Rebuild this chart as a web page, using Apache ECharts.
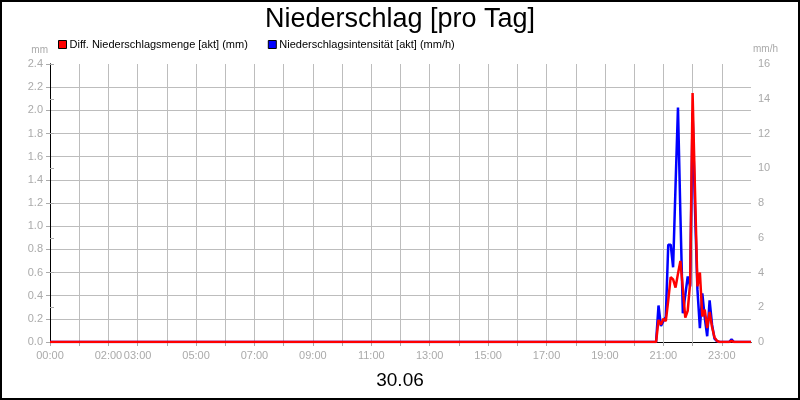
<!DOCTYPE html>
<html>
<head>
<meta charset="utf-8">
<title>Niederschlag [pro Tag]</title>
<script src="https://cdn.jsdelivr.net/npm/echarts@6/dist/echarts.min.js"></script>
<style>
  html, body { margin: 0; padding: 0; background: #fff; }
  #chart { width: 800px; height: 400px; }
</style>
</head>
<body>
<div id="chart"></div>
<script>
// Messzeitpunkte (5-Minuten-Werte, nur Regenphase, sonst 0)
var times = ['00:00', '20:45', '20:50', '20:55', '21:00', '21:05', '21:10', '21:15', '21:20',
  '21:25', '21:30', '21:35', '21:40', '21:45', '21:50', '21:55', '22:00', '22:05', '22:10',
  '22:15', '22:20', '22:25', '22:30', '22:35', '22:40', '22:45', '22:50', '22:55',
  '23:15', '23:20', '23:25', '24:00'];
// Diff. Niederschlagsmenge (mm)
var menge = [0, 0, 0.19, 0.15, 0.20, 0.18, 0.36, 0.56, 0.54,
  0.47, 0.59, 0.70, 0.46, 0.21, 0.27, 0.51, 2.15, 1.30, 0.48,
  0.60, 0.22, 0.28, 0.12, 0.26, 0.13, 0.04, 0.01, 0,
  0, 0.01, 0, 0];
// Niederschlagsintensität (mm/h)
var intensitaet = [0, 0, 2.1, 0.92, 1.2, 1.45, 5.6, 5.6, 4.3,
  9.0, 13.5, 7.3, 1.65, 2.7, 3.77, 3.2, 13.2, 7.6, 3.0,
  0.8, 2.8, 1.4, 0.33, 2.4, 1.0, 0.2, 0.05, 0,
  0, 0.15, 0, 0];
// beschriftete Stunden an der x-Achse
var tickLabels = ['00:00', '02:00', '03:00', '05:00', '07:00', '09:00', '11:00',
  '13:00', '15:00', '17:00', '19:00', '21:00', '23:00'];

var FONT = "'Liberation Sans', Arial, sans-serif";
var GREY = '#aaaaaa';

function toMin(t) {
  var p = t.split(':');
  return parseInt(p[0], 10) * 60 + parseInt(p[1], 10);
}
function toHHMM(m) {
  var h = Math.floor(m / 60), mm = m % 60;
  return (h < 10 ? '0' : '') + h + ':' + (mm < 10 ? '0' : '') + mm;
}

var mengeData = times.map(function (t, i) { return [toMin(t), menge[i]]; });
var intensData = times.map(function (t, i) { return [toMin(t), intensitaet[i]]; });

var chart = echarts.init(document.getElementById('chart'));
chart.setOption({
  animation: false,
  backgroundColor: '#fff',
  textStyle: { fontFamily: FONT },
  title: [{
    text: 'Niederschlag [pro Tag]',
    left: 'center',
    top: 1,
    textStyle: { fontSize: 27, fontWeight: 'normal', color: '#000', fontFamily: FONT }
  }, {
    text: '30.06',
    left: 'center',
    top: 366,
    textStyle: { fontSize: 19, fontWeight: 'normal', color: '#000', fontFamily: FONT }
  }],
  legend: {
    left: 58,
    top: 39,
    padding: 0,
    icon: 'rect',
    itemWidth: 8,
    itemHeight: 8,
    itemGap: 20,
    data: ['Diff. Niederschlagsmenge [akt] (mm)', 'Niederschlagsintensität [akt] (mm/h)'],
    itemStyle: { borderColor: '#000', borderWidth: 1 },
    textStyle: { fontSize: 11, color: '#000', fontFamily: FONT, padding: [0, 0, 0, -2] }
  },
  graphic: [{
    type: 'rect',
    shape: { x: 1, y: 1, width: 798, height: 398 },
    style: { fill: 'none', stroke: '#000', lineWidth: 2 },
    silent: true
  }, {
    // Einheit linke Achse
    type: 'text',
    right: 752,
    top: 45,
    style: { text: 'mm', fill: GREY, fontSize: 10, fontFamily: FONT },
    silent: true
  }, {
    // Einheit rechte Achse
    type: 'text',
    left: 753,
    top: 44,
    style: { text: 'mm/h', fill: GREY, fontSize: 10, fontFamily: FONT },
    silent: true
  }],
  grid: { left: 50, right: 49, top: 64, bottom: 58 },
  xAxis: [{
    type: 'value',
    min: 0,
    max: 1440,
    interval: 60,
    axisLine: { show: true, lineStyle: { color: '#000', width: 1 } },
    axisTick: { show: true, length: 4, lineStyle: { color: GREY } },
    axisLabel: {
      color: GREY, fontSize: 11, fontFamily: FONT, margin: 8,
      showMaxLabel: false,
      formatter: function (v) {
        var s = toHHMM(v);
        return tickLabels.indexOf(s) >= 0 ? s : '';
      }
    },
    splitLine: { show: true, showMinLine: false, showMaxLine: false, lineStyle: { color: '#bdbdbd', width: 1 } }
  }, {
    type: 'value',
    position: 'top',
    min: 0,
    max: 1440,
    interval: 60,
    axisLine: { show: true, lineStyle: { color: '#000', width: 1 } },
    axisTick: { show: false },
    axisLabel: { show: false },
    splitLine: { show: false }
  }],
  yAxis: [{
    type: 'value',
    min: 0,
    max: 2.4,
    interval: 0.2,
    axisLine: { show: true, lineStyle: { color: '#000', width: 1 } },
    axisTick: { show: true, length: 4, lineStyle: { color: GREY } },
    axisLabel: {
      color: GREY, fontSize: 11, fontFamily: FONT, margin: 7,
      formatter: function (v) { return v.toFixed(1); }
    },
    splitLine: { show: true, showMinLine: false, showMaxLine: false, lineStyle: { color: '#bdbdbd', width: 1 } }
  }, {
    type: 'value',
    position: 'right',
    min: 0,
    max: 16,
    interval: 2,
    axisLine: { show: true, lineStyle: { color: '#000', width: 1 } },
    axisTick: { show: true, length: 4, lineStyle: { color: GREY } },
    axisLabel: { color: GREY, fontSize: 11, fontFamily: FONT, margin: 7 },
    splitLine: { show: false }
  }],
  series: [{
    name: 'Diff. Niederschlagsmenge [akt] (mm)',
    type: 'line',
    xAxisIndex: 0,
    yAxisIndex: 0,
    data: mengeData,
    showSymbol: false,
    symbol: 'none',
    z: 4,
    color: '#ff0000',
    lineStyle: { color: '#ff0000', width: 2.5 }
  }, {
    name: 'Niederschlagsintensität [akt] (mm/h)',
    type: 'line',
    xAxisIndex: 0,
    yAxisIndex: 1,
    data: intensData,
    showSymbol: false,
    symbol: 'none',
    z: 3,
    color: '#0000ff',
    lineStyle: { color: '#0000ff', width: 2.5 }
  }]
});
</script>
</body>
</html>
